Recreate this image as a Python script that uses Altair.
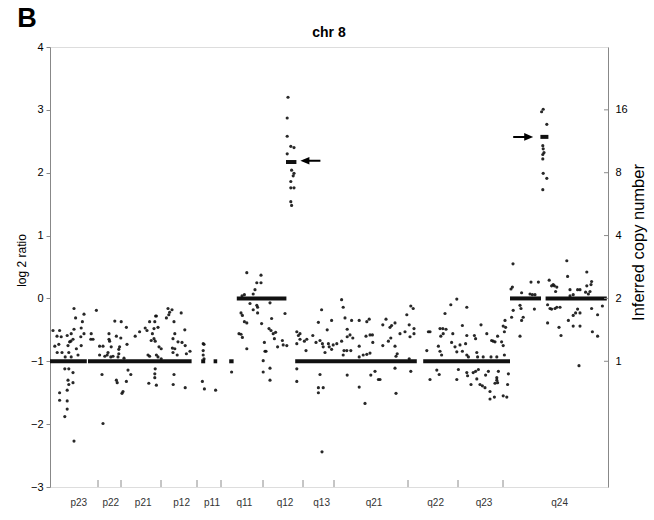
import altair as alt
import pandas as pd

# ---- probe data: (position along chr 8 in Mb, log2 ratio) ----
p_arm_upper = [(6.0,-0.16),(11.6,-0.19),(29.5,-0.16),(30.5,-0.18),(29.9,-0.22),(29.7,-0.26),(29.1,-0.31),(32.8,-0.23),
    (26.6,-0.28),(8.5,-0.25),(6.4,-0.31),(0.75,-0.51),(2.4,-0.51),(1.75,-0.60),(2.8,-0.61),(4.3,-0.59),(5.3,-0.56),
    (8.1,-0.37),(7.8,-0.47),(7.7,-0.61),(8.5,-0.56),(6.0,-0.49),(10.3,-0.56),(10.75,-0.65),(10.2,-0.65),(16.2,-0.36),
    (17.8,-0.37),(19.1,-0.46),(17.7,-0.63),(16.6,-0.60),(14.75,-0.56),(14.75,-0.65),(14.9,-0.68),(15.3,-0.77),
    (12.4,-0.76),(13.25,-0.76),(14.5,-0.86),(15.2,-0.93),(17.4,-0.77),(17.2,-0.81),(19.25,-0.73),(21.3,-0.60),
    (22.4,-0.53),(23.8,-0.47),(24.9,-0.37),(26.2,-0.37),(26.4,-0.28),(26.0,-0.48),(27.0,-0.46),(25.6,-0.56),
    (25.3,-0.67),(26.0,-0.64),(26.3,-0.68),(27.25,-0.77),(27.8,-0.80),(24.25,-0.51),(24.5,-0.90),(26.6,-0.90),
    (27.0,-0.93),(31.0,-0.37),(31.2,-0.56),(30.75,-0.64),(32.0,-0.69),(33.0,-0.70),(33.7,-0.50),(33.8,-0.75),
    (30.6,-0.79),(31.2,-0.80),(30.75,-0.86),(31.8,-0.90),(34.1,-0.88),(1.2,-0.76),(2.2,-0.73),(1.8,-0.86),
    (3.0,-0.86),(3.8,-0.93),(4.5,-0.75),(4.9,-0.69),(5.2,-0.68),(5.75,-0.65),(4.7,-0.86),(5.3,-0.93),(6.6,-0.80),
    (7.8,-0.75),(7.0,-0.90),(12.4,-0.90),(13.7,-0.92),(14.3,-0.90),(15.75,-0.92),(17.0,-0.93),(17.2,-0.88),
    (18.5,-0.95),(24.9,-0.92),(27.8,-0.96)]
p_arm_lower = [(3.7,-1.12),(4.7,-1.12),(5.75,-1.18),(4.5,-1.30),(4.7,-1.37),(4.3,-1.46),(2.4,-1.50),(2.4,-1.62),
    (4.3,-1.63),(4.3,-1.76),(3.7,-1.88),(5.75,-1.34),(6.0,-2.27),(13.0,-1.21),(13.25,-1.99),(16.6,-1.30),
    (16.8,-1.34),(19.5,-1.14),(20.2,-1.21),(19.1,-1.32),(18.25,-1.48),(18.0,-1.51),(24.7,-1.35),(26.3,-1.12),
    (26.2,-1.20),(26.2,-1.26),(26.6,-1.38),(31.0,-1.21),(30.8,-1.37),(33.8,-1.42)]
p11_probes = [(35.0,-0.84),(38.3,-0.72),(38.5,-0.73),(38.3,-0.83),(38.3,-0.90),(38.5,-0.96),(38.1,-1.32),
    (38.6,-1.44),(41.4,-1.46),(45.4,-1.17)]
q11_probes = [(49.2,0.41),(52.75,0.37),(51.7,0.25),(52.75,0.25),(51.25,0.14),(50.8,0.07),(48.6,0.06),(48.0,0.04),
    (50.0,-0.08),(50.8,-0.18),(51.9,-0.14),(51.7,-0.11),(51.9,-0.23),(55.0,-0.07),(47.75,-0.23),(48.1,-0.27),
    (48.6,-0.37),(49.2,-0.39),(55.4,-0.32),(52.9,-0.40),(58.75,-0.24),(47.25,-0.56),(47.75,-0.57),(48.1,-0.62),
    (49.2,-0.80),(54.75,-0.48),(55.25,-0.51),(55.8,-0.56),(56.4,-0.54),(56.1,-0.64),(53.6,-0.70),(53.75,-0.84),
    (54.0,-0.84),(56.9,-0.77),(58.1,-0.67),(58.3,-0.74),(59.2,-0.75),(53.3,-0.99),(53.3,-1.17),(55.0,-1.11),
    (55.0,-1.30)]
q12_amplicon = [(59.5,3.2),(59.3,2.87),(59.3,2.58),(60.2,2.42),(61.0,2.40),(59.3,2.30),(60.4,2.04),(61.0,1.99),
    (60.8,1.95),(60.2,1.86),(60.2,1.76),(61.0,1.76),(60.2,1.54),(60.4,1.48)]
q13_probes = [(61.7,-0.53),(62.1,-0.59),(62.5,-0.56),(62.5,-0.65),(61.7,-0.72),(63.6,-0.68),(64.2,-0.65),
    (64.0,-0.83),(65.7,-0.59),(66.5,-0.70),(67.1,-0.38),(67.9,-0.18),(67.5,-0.67),(68.1,-0.72),(68.3,-0.77),
    (61.7,-1.12),(61.7,-1.32),(67.5,-1.21),(67.1,-1.42),(68.3,-1.42),(67.1,-1.50),(68.0,-2.44)]
q21_upper = [(72.9,-0.02),(73.3,-0.14),(73.75,-0.31),(75.4,-0.35),(70.4,-0.35),(69.3,-0.50),(74.3,-0.49),
    (75.0,-0.58),(75.7,-0.63),(74.3,-0.61),(69.6,-0.72),(69.8,-0.77),(70.8,-0.74),(71.7,-0.72),(72.9,-0.68),
    (73.5,-0.83),(74.2,-0.83),(75.2,-0.83),(68.75,-0.86),(70.4,-0.81),(73.3,-0.90),(77.3,-0.35),(79.2,-0.37),
    (79.8,-0.33),(77.3,-0.76),(79.0,-0.60),(80.0,-0.58),(80.6,-0.58),(80.7,-0.70),(78.3,-0.90),(79.2,-0.89),
    (80.0,-0.87),(77.3,-0.93),(83.2,-0.42),(84.0,-0.33),(85.0,-0.46),(85.4,-0.43),(86.25,-0.39),(85.2,-0.63),
    (84.6,-0.68),(83.2,-0.75),(86.25,-0.76),(86.8,-0.88),(86.5,-0.92),(87.5,-0.56),(88.75,-0.53),(89.2,-0.26),
    (89.8,-0.42),(90.2,-0.12),(90.8,-0.16),(90.0,-0.61),(91.0,-0.48),(91.0,-0.56),(89.8,-0.96),(94.2,-0.83),
    (94.6,-0.53),(95.0,-0.53),(97.5,-0.48),(98.2,-0.48),(99.0,-0.49),(97.7,-0.60),(98.3,-0.56),(97.1,-0.76),
    (97.5,-0.84),(97.9,-0.90),(98.75,-0.24),(100.2,-0.10),(101.7,-0.01),(100.4,-0.70),(101.25,-0.77),
    (101.7,-0.85),(100.7,-0.56)]
q21_lower = [(74.3,-1.22),(77.3,-1.41),(78.75,-1.67),(80.2,-1.22),(81.25,-1.16),(82.1,-1.29),(82.5,-1.29),
    (86.25,-1.11),(86.5,-1.51),(90.2,-1.16),(95.0,-1.29),(96.7,-1.14),(97.3,-1.21),(101.7,-1.29)]
q23_upper = [(104.2,-0.14),(103.1,-0.43),(104.2,-0.59),(103.9,-0.72),(102.5,-0.74),(103.1,-0.84),(104.2,-0.90),
    (104.6,-0.93),(106.1,-0.59),(106.4,-0.64),(107.75,-0.42),(106.7,-0.86),(106.9,-0.93),(108.3,-0.93),
    (109.2,-0.56),(110.4,-0.67),(110.8,-0.68),(111.25,-0.69),(110.25,-0.93),(111.7,-0.93),(111.9,-0.60),
    (112.9,-0.69),(113.3,-0.75),(113.6,-0.53),(113.9,-0.46),(113.3,-0.44),(113.75,-0.35),(113.6,-0.90)]
q23_lower = [(102.1,-1.13),(104.2,-1.18),(104.4,-1.23),(105.25,-1.37),(105.8,-1.18),(106.4,-1.16),(106.7,-1.28),
    (107.1,-1.13),(107.5,-1.37),(108.1,-1.39),(108.9,-1.22),(109.6,-1.16),(108.75,-1.42),(110.0,-1.48),
    (110.0,-1.60),(111.1,-1.57),(111.7,-1.26),(111.7,-1.30),(112.1,-1.16),(111.25,-1.35),(111.9,-1.34),
    (113.3,-1.55),(114.2,-1.57),(114.4,-1.37),(114.6,-1.20)]
q24_upper = [(115.75,0.55),(115.25,0.15),(115.6,0.18),(117.9,0.09),(120.25,0.26),(122.1,0.26),(120.0,0.07),
    (120.6,0.06),(121.25,0.06),(124.8,0.29),(125.4,0.20),(126.1,0.20),(126.4,0.11),(125.8,0.22),(126.7,0.18),
    (129.2,0.60),(129.4,0.35),(130.0,0.04),(130.8,0.06),(130.0,0.14),(132.5,0.14),(131.9,0.14),(134.2,0.42),
    (134.2,0.20),(135.4,0.27),(135.25,0.22),(135.0,0.11),(133.9,0.10),(134.6,0.07)]
q24_lower = [(115.8,-0.19),(115.4,-0.30),(117.5,-0.11),(117.75,-0.16),(118.3,-0.30),(117.9,-0.35),(117.5,-0.60),
    (121.1,-0.17),(124.4,-0.10),(125.0,-0.16),(125.4,-0.17),(126.25,-0.16),(126.7,-0.14),(127.5,-0.14),
    (124.4,-0.39),(127.25,-0.46),(127.75,-0.59),(129.6,-0.35),(130.8,-0.27),(131.4,-0.23),(131.9,-0.17),
    (130.8,-0.44),(132.5,-0.44),(132.5,-0.23),(132.25,-1.07),(135.4,-0.16),(136.9,-0.26),(138.1,-0.12),
    (135.6,-0.53),(136.9,-0.60)]
q24_amplicon = [(123.3,3.01),(122.9,2.97),(124.2,2.77),(123.2,2.43),(123.3,2.38),(123.5,2.32),(123.2,2.29),
    (123.2,2.22),(123.3,1.99),(124.2,1.91),(123.2,1.73)]

# ---- segmentation (start Mb, end Mb, segment log2 level) ----
seg_start = [0.0, 9.5, 37.8, 40.9, 44.8, 46.7, 59.0, 61.3, 93.3, 115.0, 123.9, 122.6]
seg_end   = [9.2, 35.4, 38.8, 41.8, 45.9, 59.1, 61.6, 91.7, 115.0, 122.75, 139.2, 124.6]
seg_value = [-1, -1, -1, -1, -1, 0, 2.17, -1, -1, 0, 0, 2.57]

# ---- cytoband annotation ----
band_edges = [12.0, 17.75, 27.75, 36.75, 42.75, 53.25, 63.25, 71.0, 89.5, 102.0, 113.25]
band_names = ["p23", "p22", "p21", "p12", "p11", "q11", "q12", "q13", "q21", "q22", "q23", "q24"]
band_centers = [7.2, 15.2, 23.3, 32.9, 40.5, 48.6, 58.75, 67.9, 81.0, 96.4, 108.5, 127.4]

# ---- axes ----
left_ticks = [-3, -2, -1, 0, 1, 2, 3, 4]
copy_ticks = [-1, 0, 1, 2, 3]
copy_labels = ["1", "2", "4", "8", "16"]

# ---- arrows (centre position Mb, log2 level, direction) ----
arrow_pos = [65.1, 118.3]
arrow_log2 = [2.19, 2.57]
arrow_dir = ["left", "right"]

# ---- texts ----
panel_letter = "B"
chart_title = "chr 8"

FONT = "Liberation Sans"
GRAY = "#8c8c8c"
X_DOMAIN = [0, 139.5]
Y_DOMAIN = [-3, 4]

probes = (p_arm_upper + p_arm_lower + p11_probes + q11_probes + q12_amplicon + q13_probes + q21_upper
          + q21_lower + q23_upper + q23_lower + q24_upper + q24_lower + q24_amplicon)
df_pts = pd.DataFrame(probes, columns=["pos", "log2"])
df_seg = pd.DataFrame({"start": seg_start, "end": seg_end, "v": seg_value})
df_edges = pd.DataFrame({"edge": band_edges})
df_bands = pd.DataFrame({"name": band_names, "center": band_centers})
df_right = pd.DataFrame({"v": copy_ticks})
df_arrow = pd.DataFrame({"pos": arrow_pos, "v": arrow_log2, "dir": arrow_dir})

xs = alt.Scale(domain=X_DOMAIN, nice=False, zero=False)
ys = alt.Scale(domain=Y_DOMAIN, nice=False, zero=False)

left_axis = alt.Axis(values=left_ticks, tickSize=4, labelPadding=3, grid=False, title="log 2 ratio",
                     titleFontWeight="normal", titleFontSize=12, labelFontSize=11, titleX=-29, titleY=213,
                     titleBaseline="middle", titleAngle=270)

mapping = " : ".join([f"datum.value == {t} ? '{l}'" for t, l in zip(copy_ticks, copy_labels)]) + " : ''"
right_axis = alt.Axis(orient="right", values=copy_ticks, tickSize=0, labelPadding=7, grid=False,
                      labelExpr=mapping, title="Inferred copy number", titleFontWeight="normal",
                      titleFontSize=16.5, labelFontSize=11, titleAngle=270, titleX=30, titleY=195,
                      titleBaseline="middle")

points = alt.Chart(df_pts).mark_circle(size=10, color="#111", opacity=0.9).encode(
    x=alt.X("pos:Q", scale=xs, axis=None),
    y=alt.Y("log2:Q", scale=ys, axis=left_axis),
)

segments = alt.Chart(df_seg).mark_rule(strokeWidth=4, color="#111").encode(
    x=alt.X("start:Q", scale=xs, axis=None),
    x2="end:Q",
    y=alt.Y("v:Q", scale=ys, axis=None),
)

edges = alt.Chart(df_edges).mark_rule(color=GRAY, strokeWidth=1).encode(
    x=alt.X("edge:Q", scale=xs, axis=None),
    y=alt.value(440),
    y2=alt.value(433),
)

band_text = alt.Chart(df_bands).mark_text(font=FONT, fontSize=10, color="#333", baseline="middle").encode(
    x=alt.X("center:Q", scale=xs, axis=None),
    y=alt.value(456),
    text="name:N",
)

right_ticks = alt.Chart(df_right).mark_rule(color=GRAY, strokeWidth=1).encode(
    y=alt.Y("v:Q", scale=ys, axis=right_axis),
    x=alt.value(554),
    x2=alt.value(558),
)

LEFT_ARROW = "M-1,0L-0.1,-0.38L-0.1,-0.1L1,-0.1L1,0.1L-0.1,0.1L-0.1,0.38Z"
RIGHT_ARROW = "M1,0L0.1,-0.38L0.1,-0.1L-1,-0.1L-1,0.1L0.1,0.1L0.1,0.38Z"

arrow_l = alt.Chart(df_arrow).transform_filter(alt.datum.dir == "left").mark_point(
    shape=LEFT_ARROW, size=400, filled=True, color="#000", opacity=1, strokeWidth=0).encode(
    x=alt.X("pos:Q", scale=xs, axis=None),
    y=alt.Y("v:Q", scale=ys, axis=None),
)
arrow_r = alt.Chart(df_arrow).transform_filter(alt.datum.dir == "right").mark_point(
    shape=RIGHT_ARROW, size=400, filled=True, color="#000", opacity=1, strokeWidth=0).encode(
    x=alt.X("pos:Q", scale=xs, axis=None),
    y=alt.Y("v:Q", scale=ys, axis=None),
)

panel = alt.Chart(pd.DataFrame({"t": [panel_letter]})).mark_text(
    font=FONT, fontSize=27, fontWeight="bold", color="#000", align="center", baseline="middle").encode(
    x=alt.value(-23), y=alt.value(-28), text="t:N")

title_text = alt.Chart(pd.DataFrame({"t": [chart_title]})).mark_text(
    font=FONT, fontSize=14, fontWeight="bold", color="#000", align="center", baseline="alphabetic").encode(
    x=alt.value(279), y=alt.value(-10), text="t:N")

chart = alt.layer(points, segments, edges, band_text, right_ticks, arrow_l, arrow_r, panel, title_text
).resolve_scale(
    y="independent"
).properties(
    width=558, height=440,
    padding={"left": 50, "top": 47, "right": 46, "bottom": 33},
    autosize=alt.AutoSizeParams(type="none"),
).configure_view(
    stroke=GRAY, strokeWidth=1
).configure_axis(
    domainColor=GRAY, tickColor=GRAY, labelColor="#333", titleColor="#333",
    labelFont=FONT, titleFont=FONT,
).configure(background="white")

chart.save("out.html", embed_options={"renderer": "svg", "actions": False})
